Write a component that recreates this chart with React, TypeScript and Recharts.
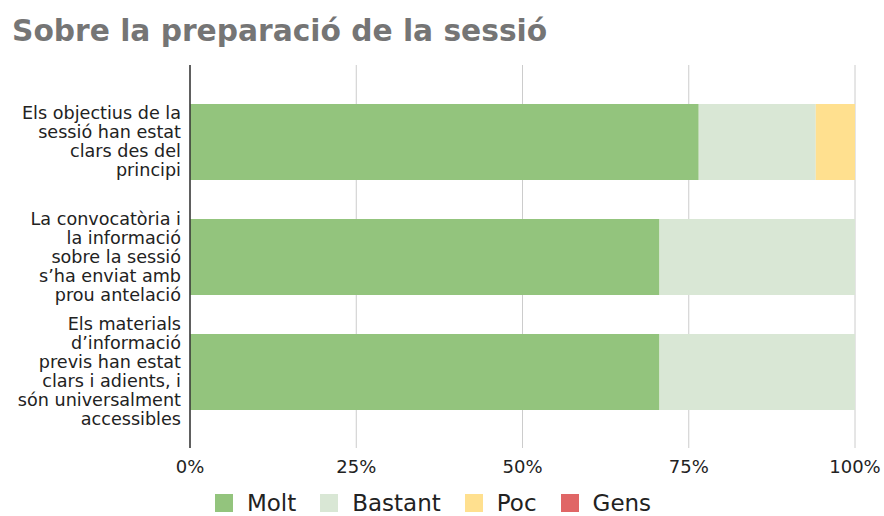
import React from 'react';
import { BarChart, Bar, XAxis, YAxis, CartesianGrid, Legend } from 'recharts';

const FONT = '"DejaVu Sans", Verdana, sans-serif';

// preguntes (amb salts de línia tal com surten a l'eix)
const categories = [
  'Els objectius de la\nsessió han estat\nclars des del\nprincipi',
  'La convocatòria i\nla informació\nsobre la sessió\ns’ha enviat amb\nprou antelació',
  'Els materials\nd’informació\nprevis han estat\nclars i adients, i\nsón universalment\naccessibles',
];

// percentatges per resposta
const molt = [76.5, 70.6, 70.6];
const bastant = [17.6, 29.4, 29.4];
const poc = [5.9, 0, 0];
const gens = [0, 0, 0];

const xTicks = [0, 25, 50, 75, 100];

const series = [
  { key: 'Molt', values: molt, color: '#93c47d' },
  { key: 'Bastant', values: bastant, color: '#d9e7d5' },
  { key: 'Poc', values: poc, color: '#ffe08f' },
  { key: 'Gens', values: gens, color: '#e06666' },
];
const seriesOrder = series.map(s => s.key);

const chartData = categories.map((label, i) => {
  const row: any = { label };
  series.forEach(s => {
    row[s.key] = s.values[i];
  });
  return row;
});

const QuestionTick = (props: any) => {
  const { x, y, payload } = props;
  const lines = String(payload.value).split('\n');
  const fontSize = 17.6;
  const lineH = 19;
  const first = y - ((lines.length - 1) * lineH) / 2 + fontSize * 0.36;
  return (
    <text x={x} y={first} textAnchor="end" fill="#222" fontSize={fontSize} fontFamily={FONT}>
      {lines.map((l, i) => (
        <tspan key={i} x={x} y={first + i * lineH}>
          {l}
        </tspan>
      ))}
    </text>
  );
};

const LegendContent = (props: any) => {
  const items = [...(props.payload || [])].sort(
    (a: any, b: any) => seriesOrder.indexOf(a.value) - seriesOrder.indexOf(b.value)
  );
  return (
    <div
      style={{
        height: 36,
        display: 'flex',
        justifyContent: 'center',
        alignItems: 'flex-start',
        paddingTop: 10,
        boxSizing: 'border-box',
        fontFamily: FONT,
      }}
    >
      {items.map((entry: any, i: number) => (
        <div
          key={entry.value}
          style={{ display: 'flex', alignItems: 'center', height: 26, marginLeft: i === 0 ? 0 : 24 }}
        >
          <div style={{ width: 18, height: 18, background: entry.color, marginRight: 14 }} />
          <span style={{ fontSize: 23, color: '#222', lineHeight: '26px' }}>{entry.value}</span>
        </div>
      ))}
    </div>
  );
};

export default function App() {
  return (
    <div style={{ position: 'absolute', left: 0, top: 0, width: 884, height: 516, background: '#fff' }}>
      <div
        style={{
          position: 'absolute',
          left: 12,
          top: 16,
          fontFamily: FONT,
          fontWeight: 'bold',
          fontSize: 29.7,
          lineHeight: '30px',
          color: '#757575',
          whiteSpace: 'nowrap',
        }}
      >
        Sobre la preparació de la sessió
      </div>
      <BarChart
        width={884}
        height={516}
        data={chartData}
        layout="vertical"
        margin={{ top: 65, right: 29, bottom: 0, left: 0 }}
      >
        <CartesianGrid horizontal={false} stroke="#cccccc" />
        <XAxis
          type="number"
          domain={[0, 100]}
          ticks={xTicks}
          tickFormatter={(v: number) => `${v}%`}
          axisLine={false}
          tickLine={false}
          tickSize={0}
          tickMargin={12}
          height={32}
          tick={{ fill: '#222', fontSize: 18, fontFamily: FONT }}
          interval={0}
        />
        <YAxis
          type="category"
          dataKey="label"
          width={190}
          axisLine={{ stroke: '#333', strokeWidth: 1.5 }}
          tickLine={false}
          tickSize={0}
          tickMargin={9}
          padding={{ top: 19, bottom: 19 }}
          tick={<QuestionTick />}
          interval={0}
        />
        <Legend
          verticalAlign="bottom"
          height={36}
          wrapperStyle={{ left: 0, width: 866 }}
          content={<LegendContent />}
        />
        {series.map(s => (
          <Bar
            key={s.key}
            dataKey={s.key}
            stackId="a"
            fill={s.color}
            barSize={76}
            legendType="rect"
            isAnimationActive={false}
          />
        ))}
      </BarChart>
    </div>
  );
}
